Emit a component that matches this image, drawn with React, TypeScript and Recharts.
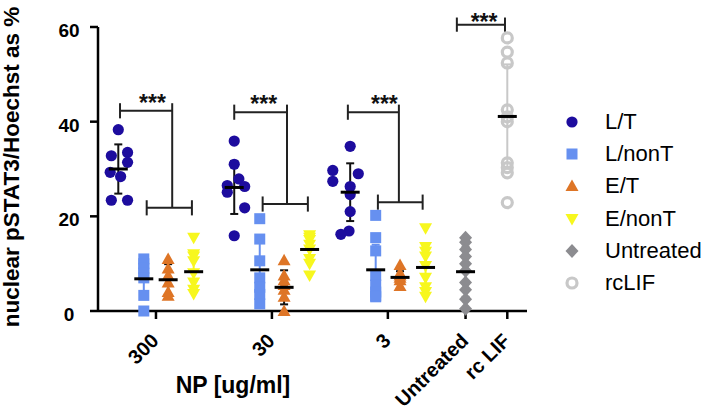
import React from "react";
import {
  ScatterChart,
  Scatter,
  XAxis,
  YAxis,
  ErrorBar,
  ReferenceLine,
  ReferenceDot,
  Legend,
  Label,
} from "recharts";

// ---------- categories / ticks ----------
const groupLabels = ["300", "30", "3", "Untreated", "rc LIF"];
const groupPositions = [1, 2, 3, 3.67, 4.03];
const yTicks = [0, 20, 40, 60];

const seriesNames = ["L/T", "L/nonT", "E/T", "E/nonT", "Untreated", "rcLIF"];
const seriesColors = ["#1D0C9E", "#6690F0", "#DE7526", "#F7F71E", "#8C8C90", "#C8C8C8"];
const errorColors = ["#111111", "#6690F0", "#111111", "#F7F71E", "#8C8C90", "#C8C8C8"];
const columnOffsets = [-0.325, -0.105, 0.105, 0.325];

// ---------- raw values (per NP group 300, 30, 3) ----------
const lT = [
  [38.3, 33.5, 32.8, 31.4, 29.3, 28.4, 23.4, 23.4],
  [35.9, 31.0, 27.9, 26.5, 26.3, 25.1, 21.8, 15.9],
  [34.8, 29.7, 29.0, 27.4, 26.3, 24.6, 21.0, 16.9, 16.2],
];
const lTJitter = [
  [0, 0.08, -0.06, 0.08, -0.07, 0.02, -0.06, 0.08],
  [0, 0, 0.04, -0.06, 0.09, -0.06, 0.09, 0],
  [0, -0.15, 0.07, -0.15, 0, 0, 0, -0.01, -0.08],
];
const lNonT = [
  [11.0, 10.0, 9.0, 8.0, 7.0, 3.3, 0],
  [19.5, 15.2, 10.6, 7.0, 5.0, 3.5, 1.5],
  [20.2, 15.5, 12.7, 7.5, 5.5, 4.0, 3.2, 3.0],
];
const eT = [
  [11.0, 9.0, 7.5, 6.0, 4.0, 3.2],
  [10.7, 7.5, 6.5, 5.5, 4.5, 3.0, 0],
  [9.7, 8.0, 7.5, 7.0, 6.5, 5.3],
];
const eNonT = [
  [15.5, 12.0, 11.5, 10.5, 8.0, 6.0, 4.5, 3.6],
  [16.0, 15.5, 15.0, 14.0, 13.0, 11.0, 10.0, 7.5],
  [17.5, 13.5, 12.5, 11.5, 9.5, 7.0, 5.0, 4.0, 3.0],
];
const untreatedValues = [15.5, 14.5, 13.0, 11.5, 10.0, 8.5, 6.0, 4.5, 2.5, 0.5];
const rcLifValues = [57.7, 54.7, 52.4, 42.5, 41.0, 40.0, 31.3, 30.3, 29.2, 22.9];

// ---------- means and SD as drawn ----------
const lTMean = [30.0, 26.1, 25.1];
const lTSd = [5.2, 5.6, 6.1];
const lNonTMean = [6.8, 8.7, 8.7];
const lNonTSd = [4.2, 6.5, 5.3];
const eTMean = [6.6, 5.0, 7.1];
const eTSd = [3.3, 3.6, 1.3];
const eNonTMean = [8.3, 13.0, 9.2];
const eNonTSd = [4.2, 2.5, 4.6];
const untreatedMean = [8.3];
const untreatedSd = [5.3];
const rcLifMean = [41.1];
const rcLifSd = [11.0];

// ---------- significance brackets ----------
const bracketTop = [42.3, 42.0, 42.0];
const bracketTopLeft = [0.69, 1.675, 2.655];
const bracketTopRight = [1.14, 2.13, 3.095];
const bracketLow = [21.8, 22.6, 23.0];
const bracketLowLeft = [0.92, 1.92, 2.914];
const bracketLowRight = [1.31, 2.31, 3.3];
const starX = [0.97, 1.93, 2.97];
const starY = [42.3, 42.0, 42.0];
const rcBracketY = 60.5;
const rcBracketX = [3.595, 4.01];
const rcStarX = 3.83;
const rcStarY = 59.3;
const capHalf = 1.6;
const starText = "***";

const FONT = "'Liberation Sans', Arial, Helvetica, sans-serif";

// ---------- build data ----------
const buildPoints = (values: number[][], s: number, jitter?: number[][]) =>
  values.flatMap((vals, g) =>
    vals.map((v, k) => ({
      x: groupPositions[g] + columnOffsets[s] + (jitter ? jitter[g][k] : 0),
      y: v,
    }))
  );
const buildMeans = (means: number[], sds: number[], s: number) =>
  means.map((m, g) => ({ x: groupPositions[g] + columnOffsets[s], y: m, err: sds[g] }));

const lTData = buildPoints(lT, 0, lTJitter);
const lNonTData = buildPoints(lNonT, 1);
const eTData = buildPoints(eT, 2);
const eNonTData = buildPoints(eNonT, 3);
const untreatedData = untreatedValues.map((v) => ({ x: groupPositions[3], y: v }));
const rcLifData = rcLifValues.map((v) => ({ x: groupPositions[4], y: v }));

const meanSets = [
  buildMeans(lTMean, lTSd, 0),
  buildMeans(lNonTMean, lNonTSd, 1),
  buildMeans(eTMean, eTSd, 2),
  buildMeans(eNonTMean, eNonTSd, 3),
  untreatedMean.map((m, i) => ({ x: groupPositions[3], y: m, err: untreatedSd[i] })),
  rcLifMean.map((m, i) => ({ x: groupPositions[4], y: m, err: rcLifSd[i] })),
];

// ---------- marker shapes ----------
const marker = (kind: number, cx: number, cy: number) => {
  const c = seriesColors[kind];
  switch (kind) {
    case 0:
      return <circle cx={cx} cy={cy} r={5.6} fill={c} />;
    case 1:
      return <rect x={cx - 5.5} y={cy - 5.5} width={11} height={11} fill={c} />;
    case 2:
      return (
        <polygon
          points={`${cx},${cy - 6.5} ${cx + 6.5},${cy + 5} ${cx - 6.5},${cy + 5}`}
          fill={c}
        />
      );
    case 3:
      return (
        <polygon
          points={`${cx - 6.5},${cy - 5} ${cx + 6.5},${cy - 5} ${cx},${cy + 6.5}`}
          fill={c}
        />
      );
    case 4:
      return (
        <polygon
          points={`${cx},${cy - 7} ${cx + 6.5},${cy} ${cx},${cy + 7} ${cx - 6.5},${cy}`}
          fill={c}
        />
      );
    default:
      return <circle cx={cx} cy={cy} r={5} fill="none" stroke={c} strokeWidth={3.2} />;
  }
};

const shapeFor = (kind: number) => (p: any) => marker(kind, p.cx, p.cy);
const meanShape = (p: any) => (
  <line x1={p.cx - 9.5} x2={p.cx + 9.5} y1={p.cy} y2={p.cy} stroke="#000" strokeWidth={3} />
);

// ---------- ticks ----------
const Y_TICK_CENTER_X = 69;
const YTick = (props: any) => {
  const { y, payload } = props;
  return (
    <text
      x={Y_TICK_CENTER_X}
      y={y + 10}
      textAnchor="middle"
      fontSize={19}
      fontWeight="bold"
      fontFamily={FONT}
      fill="#000"
    >
      {payload.value}
    </text>
  );
};

const XTick = (props: any) => {
  const { x, y, payload } = props;
  const idx = groupPositions.findIndex((p) => Math.abs(p - payload.value) < 1e-6);
  const tx = x + 4;
  const ty = y + 21;
  return (
    <text
      x={tx}
      y={ty}
      transform={`rotate(-45 ${tx} ${ty})`}
      textAnchor="end"
      fontSize={20}
      fontWeight="bold"
      fontFamily={FONT}
      fill="#000"
    >
      {idx >= 0 ? groupLabels[idx] : ""}
    </text>
  );
};

const renderLegend = () => (
  <div style={{ fontFamily: FONT, fontSize: 22, color: "#000" }}>
    {seriesNames.map((name, i) => (
      <div key={name} style={{ display: "flex", alignItems: "center", height: 32.2 }}>
        <svg width={24} height={24} style={{ flex: "0 0 auto" }}>
          {marker(i, 12, 12)}
        </svg>
        <span style={{ marginLeft: 21, lineHeight: "24px", whiteSpace: "nowrap" }}>{name}</span>
      </div>
    ))}
  </div>
);

const starShape = (p: any) => (
  <text
    x={p.cx}
    y={p.cy}
    textAnchor="middle"
    fontSize={23}
    fontWeight="bold"
    fontFamily={FONT}
    fill="#111"
  >
    {starText}
  </text>
);

const BR = { stroke: "#222", strokeWidth: 2, ifOverflow: "visible" as const };

export default function App() {
  const pointSets = [lTData, lNonTData, eTData, eNonTData, untreatedData, rcLifData];
  return (
    <div style={{ position: "absolute", left: 0, top: 0, width: 704, height: 411, background: "#fff" }}>
      <ScatterChart
        width={704}
        height={411}
        margin={{ top: 27, right: 177, bottom: 40, left: 38 }}
      >
        <XAxis
          type="number"
          dataKey="x"
          domain={[0.5, 4.2]}
          ticks={groupPositions}
          interval={0}
          allowDataOverflow
          height={60}
          tickSize={8}
          axisLine={{ stroke: "#000", strokeWidth: 2.5 }}
          tickLine={{ stroke: "#000", strokeWidth: 2.5 }}
          tick={<XTick />}
        >
          <Label
            content={() => (
              <text
                x={233}
                y={393}
                textAnchor="middle"
                fontSize={23}
                fontWeight="bold"
                fontFamily={FONT}
                fill="#000"
              >
                NP [ug/ml]
              </text>
            )}
          />
        </XAxis>
        <YAxis
          type="number"
          dataKey="y"
          domain={[0, 60]}
          ticks={yTicks}
          width={60}
          tickSize={8}
          axisLine={{ stroke: "#000", strokeWidth: 2.5 }}
          tickLine={{ stroke: "#000", strokeWidth: 2.5 }}
          tick={<YTick />}
        >
          <Label
            content={() => (
              <text
                x={19}
                y={167}
                transform="rotate(-90 19 167)"
                textAnchor="middle"
                fontSize={22.5}
                fontWeight="bold"
                fontFamily={FONT}
                fill="#000"
              >
                nuclear pSTAT3/Hoechst as %
              </text>
            )}
          />
        </YAxis>

        {bracketTop.map((t, g) => (
          <React.Fragment key={"br" + g}>
            <ReferenceLine {...BR} segment={[{ x: bracketTopLeft[g], y: t }, { x: bracketTopRight[g], y: t }]} />
            <ReferenceLine {...BR} segment={[{ x: bracketTopLeft[g], y: t + capHalf }, { x: bracketTopLeft[g], y: t - capHalf }]} />
            <ReferenceLine {...BR} segment={[{ x: bracketTopRight[g], y: t + capHalf }, { x: bracketTopRight[g], y: bracketLow[g] }]} />
            <ReferenceLine {...BR} segment={[{ x: bracketLowLeft[g], y: bracketLow[g] }, { x: bracketLowRight[g], y: bracketLow[g] }]} />
            <ReferenceLine {...BR} segment={[{ x: bracketLowLeft[g], y: bracketLow[g] + capHalf }, { x: bracketLowLeft[g], y: bracketLow[g] - capHalf }]} />
            <ReferenceLine {...BR} segment={[{ x: bracketLowRight[g], y: bracketLow[g] + capHalf }, { x: bracketLowRight[g], y: bracketLow[g] - capHalf }]} />
            <ReferenceDot x={starX[g]} y={starY[g]} r={0} ifOverflow="visible" shape={starShape} />
          </React.Fragment>
        ))}
        <ReferenceLine {...BR} segment={[{ x: rcBracketX[0], y: rcBracketY }, { x: rcBracketX[1], y: rcBracketY }]} />
        <ReferenceLine {...BR} segment={[{ x: rcBracketX[0], y: rcBracketY + 1.5 }, { x: rcBracketX[0], y: rcBracketY - 1.5 }]} />
        <ReferenceLine {...BR} segment={[{ x: rcBracketX[1], y: rcBracketY + 1.5 }, { x: rcBracketX[1], y: rcBracketY - 1.5 }]} />
        <ReferenceDot x={rcStarX} y={rcStarY} r={0} ifOverflow="visible" shape={starShape} />

        {pointSets.map((d, i) => (
          <Scatter
            key={"pts" + i}
            name={seriesNames[i]}
            data={d}
            fill={seriesColors[i]}
            shape={shapeFor(i)}
            isAnimationActive={false}
          />
        ))}
        {meanSets.map((d, i) => (
          <Scatter
            key={"mean" + i}
            name={seriesNames[i] + " mean"}
            data={d}
            shape={meanShape}
            legendType="none"
            isAnimationActive={false}
          >
            <ErrorBar
              dataKey="err"
              direction="y"
              width={4}
              stroke={errorColors[i]}
              strokeWidth={2}
              isAnimationActive={false}
            />
          </Scatter>
        ))}
        <Legend
          layout="vertical"
          align="center"
          verticalAlign="middle"
          wrapperStyle={{ position: "absolute", left: 560, top: 106, width: 144, height: 200 }}
          content={renderLegend}
        />
      </ScatterChart>
    </div>
  );
}
